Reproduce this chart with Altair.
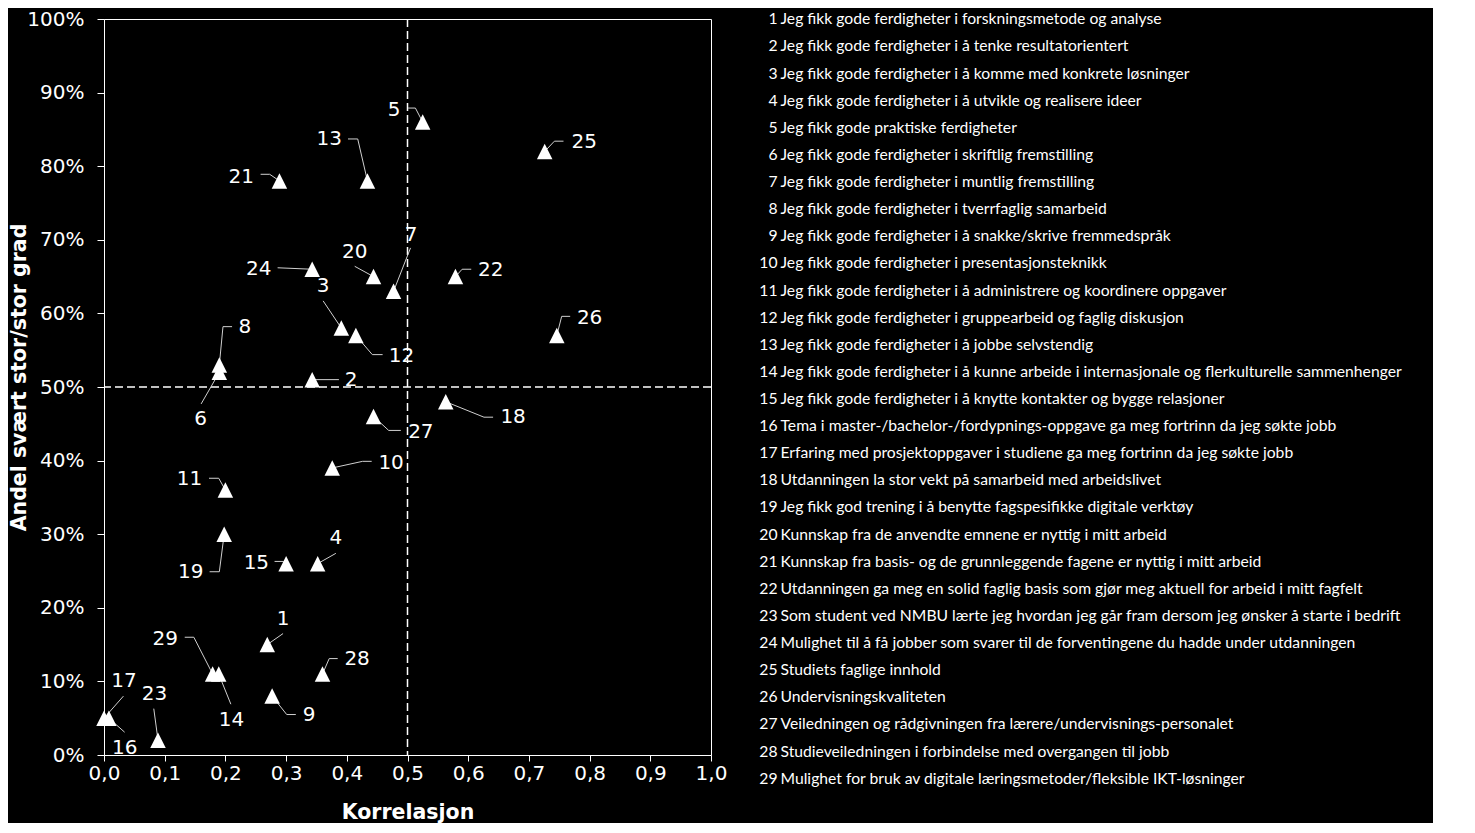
import altair as alt
import pandas as pd

ids = list(range(1, 30))
korrelasjon = [0.269, 0.343, 0.391, 0.352, 0.525, 0.190, 0.477, 0.190, 0.277, 0.376,
               0.200, 0.415, 0.434, 0.189, 0.300, 0.008, 0.000, 0.563, 0.198, 0.444,
               0.289, 0.579, 0.089, 0.343, 0.726, 0.746, 0.444, 0.360, 0.179]
andel_pct = [15, 51, 58, 26, 86, 52, 63, 53, 8, 39,
             36, 57, 78, 11, 26, 5, 5, 48, 30, 65,
             78, 65, 2, 66, 82, 57, 46, 11, 11]

# label positions (data units)
label_x = [0.295, 0.407, 0.361, 0.382, 0.478, 0.159, 0.506, 0.232, 0.338, 0.473,
           0.141, 0.490, 0.371, 0.210, 0.251, 0.034, 0.033, 0.674, 0.143, 0.413,
           0.226, 0.637, 0.083, 0.255, 0.791, 0.800, 0.522, 0.417, 0.101]
label_y_pct = [18.5, 50.9, 63.7, 29.5, 87.7, 45.6, 70.7, 58.2, 5.5, 39.7,
               37.5, 54.2, 83.7, 4.8, 26.1, 1.0, 10.0, 45.9, 24.9, 68.4,
               78.6, 65.9, 8.3, 66.1, 83.3, 59.4, 43.9, 13.0, 15.8]

# leader lines: start near label, knee, then to the point
lead_x = [0.295, 0.387, 0.361, 0.382, 0.501, 0.160, 0.505, 0.211, 0.316, 0.441,
          0.173, 0.459, 0.402, 0.209, 0.281, 0.034, 0.032, 0.641, 0.174, 0.413,
          0.258, 0.605, 0.082, 0.286, 0.757, 0.768, 0.489, 0.385, 0.133]
lead_y_pct = [16.5, 51.0, 61.7, 27.4, 87.9, 47.7, 68.9, 58.2, 5.5, 39.9,
              37.6, 54.4, 83.7, 6.9, 26.3, 3.1, 8.0, 45.9, 24.9, 66.4,
              78.9, 66.0, 6.3, 66.2, 83.4, 59.6, 44.1, 13.1, 16.0]
knee_x = [0.295, 0.387, 0.361, 0.382, 0.513, 0.160, 0.505, 0.196, 0.301, 0.426,
          0.189, 0.442, 0.418, 0.209, 0.295, 0.034, 0.032, 0.626, 0.190, 0.413,
          0.273, 0.590, 0.082, 0.286, 0.742, 0.754, 0.469, 0.371, 0.148]
knee_y_pct = [16.5, 51.0, 61.7, 27.4, 87.9, 47.7, 68.9, 58.2, 5.5, 39.9,
              37.6, 54.4, 83.7, 6.9, 26.3, 3.1, 8.0, 45.9, 24.9, 66.4,
              78.9, 66.0, 6.3, 66.2, 83.4, 59.6, 44.1, 13.1, 16.0]

items = [
    "Jeg fikk gode ferdigheter i forskningsmetode  og analyse",
    "Jeg fikk gode ferdigheter i å tenke resultatorientert",
    "Jeg fikk gode ferdigheter i å komme med konkrete løsninger",
    "Jeg fikk gode ferdigheter i å utvikle og realisere ideer",
    "Jeg fikk gode praktiske ferdigheter",
    "Jeg fikk gode ferdigheter i skriftlig fremstilling",
    "Jeg fikk gode ferdigheter i muntlig fremstilling",
    "Jeg fikk gode ferdigheter i tverrfaglig samarbeid",
    "Jeg fikk gode ferdigheter i å snakke/skrive fremmedspråk",
    "Jeg fikk gode ferdigheter i presentasjonsteknikk",
    "Jeg fikk gode ferdigheter i å administrere og koordinere oppgaver",
    "Jeg fikk gode ferdigheter i gruppearbeid og faglig diskusjon",
    "Jeg fikk gode ferdigheter i å jobbe selvstendig",
    "Jeg fikk gode ferdigheter i å kunne arbeide i internasjonale og flerkulturelle sammenhenger",
    "Jeg fikk gode ferdigheter i å knytte kontakter og bygge relasjoner",
    "Tema i master-/bachelor-/fordypnings-oppgave  ga meg fortrinn da jeg søkte jobb",
    "Erfaring med prosjektoppgaver i studiene ga meg fortrinn da jeg søkte jobb",
    "Utdanningen la stor vekt på samarbeid med arbeidslivet",
    "Jeg fikk god trening i å benytte fagspesifikke digitale verktøy",
    "Kunnskap fra de anvendte emnene er nyttig i mitt arbeid",
    "Kunnskap fra basis- og de grunnleggende fagene  er nyttig i mitt arbeid",
    "Utdanningen ga meg en solid faglig basis som gjør meg aktuell for arbeid i mitt fagfelt",
    "Som student ved NMBU lærte jeg hvordan jeg går fram dersom jeg ønsker å starte i bedrift",
    "Mulighet til å få jobber som svarer til de forventingene du hadde under utdanningen",
    "Studiets faglige innhold",
    "Undervisningskvaliteten",
    "Veiledningen og rådgivningen fra lærere/undervisnings-personalet",
    "Studieveiledningen i forbindelse med overgangen til jobb",
    "Mulighet for bruk av digitale læringsmetoder/fleksible IKT-løsninger",
]

x_ticks = [0.0, 0.1, 0.2, 0.3, 0.4, 0.5, 0.6, 0.7, 0.8, 0.9, 1.0]
y_ticks = [0.0, 0.1, 0.2, 0.3, 0.4, 0.5, 0.6, 0.7, 0.8, 0.9, 1.0]
ref_x = [0.5]
ref_y = [0.5]

FONT = "DejaVu Sans"

pts = pd.DataFrame({
    "id": ids,
    "x": korrelasjon,
    "y": [v / 100 for v in andel_pct],
    "lx": label_x,
    "ly": [v / 100 for v in label_y_pct],
    "label": [str(i) for i in ids],
})

rows = []
for i in range(len(ids)):
    rows.append({"id": ids[i], "o": 0, "x": lead_x[i], "y": lead_y_pct[i] / 100})
    rows.append({"id": ids[i], "o": 1, "x": knee_x[i], "y": knee_y_pct[i] / 100})
    rows.append({"id": ids[i], "o": 2, "x": korrelasjon[i], "y": andel_pct[i] / 100})
lead = pd.DataFrame(rows)

xs = alt.Scale(domain=[0, 1], nice=False, zero=False)
ys = alt.Scale(domain=[0, 1], nice=False, zero=False)

x_axis = alt.Axis(values=x_ticks, grid=False, tickSize=6, labelPadding=2,
                  labelExpr="replace(format(datum.value, '.1f'), '.', ',')",
                  titlePadding=19, labelFlush=False)
y_axis = alt.Axis(values=y_ticks, grid=False, tickSize=7, labelPadding=13,
                  format=".0%", titleX=-79, titleBaseline="alphabetic", titleY=358)

X = lambda f: alt.X(f, type="quantitative", scale=xs, axis=x_axis, title="Korrelasjon")
Y = lambda f: alt.Y(f, type="quantitative", scale=ys, axis=y_axis, title="Andel svært stor/stor grad")

vline = alt.Chart(pd.DataFrame({"x": ref_x})).mark_rule(
    color="white", strokeWidth=1.5, strokeDash=[8, 4]).encode(x=X("x"))
hline = alt.Chart(pd.DataFrame({"y": ref_y})).mark_rule(
    color="white", strokeWidth=1.5, strokeDash=[8, 4]).encode(y=Y("y"))

leaders = alt.Chart(lead).mark_line(color="#d0d0d0", strokeWidth=1).encode(
    x=X("x"), y=Y("y"), detail="id:N", order="o:Q")

tri = alt.Chart(pts).mark_point(
    shape="M0,-1L1,1L-1,1Z", filled=True, fill="white", color="white",
    opacity=1, size=240, strokeWidth=0).encode(x=X("x"), y=Y("y"))

labels = alt.Chart(pts).mark_text(
    font=FONT, fontSize=20, color="white", align="center", baseline="middle").encode(
    x=X("lx"), y=Y("ly"), text="label:N")

scatter = alt.layer(vline, hline, leaders, tri, labels).properties(
    width=607, height=736,
    view=alt.ViewBackground(stroke="white", strokeWidth=1),
)

leg_df = pd.DataFrame({"num": ids, "numtxt": [str(i) for i in ids], "item": items})
ly_enc = alt.Y("num:O", axis=None, scale=alt.Scale(padding=0.012))
leg_num = alt.Chart(leg_df).mark_text(
    font="Lato", fontSize=15.7, color="white", align="right", baseline="middle").encode(
    y=ly_enc, x=alt.value(49.5), text="numtxt:N")
leg_txt = alt.Chart(leg_df).mark_text(
    font="Lato", fontSize=15.7, color="white", align="left", baseline="middle").encode(
    y=ly_enc, x=alt.value(52.5), text="item:N")
legend = alt.layer(leg_num, leg_txt).properties(
    width=700, height=760,
    view=alt.ViewBackground(strokeWidth=0),
)

chart = alt.hconcat(scatter, legend, spacing=0).properties(
    background="black",
    padding={"left": 0, "top": 0, "right": 5, "bottom": 0},
).configure_axis(
    labelColor="white", titleColor="white", domainColor="white", tickColor="white",
    labelFont=FONT, labelFontSize=20, titleFont=FONT, titleFontSize=20.5,
    titleFontWeight="bold", domainWidth=1, tickWidth=1,
).configure_view(strokeWidth=0)

chart.save("out.html", embed_options={"renderer": "svg", "actions": False})
